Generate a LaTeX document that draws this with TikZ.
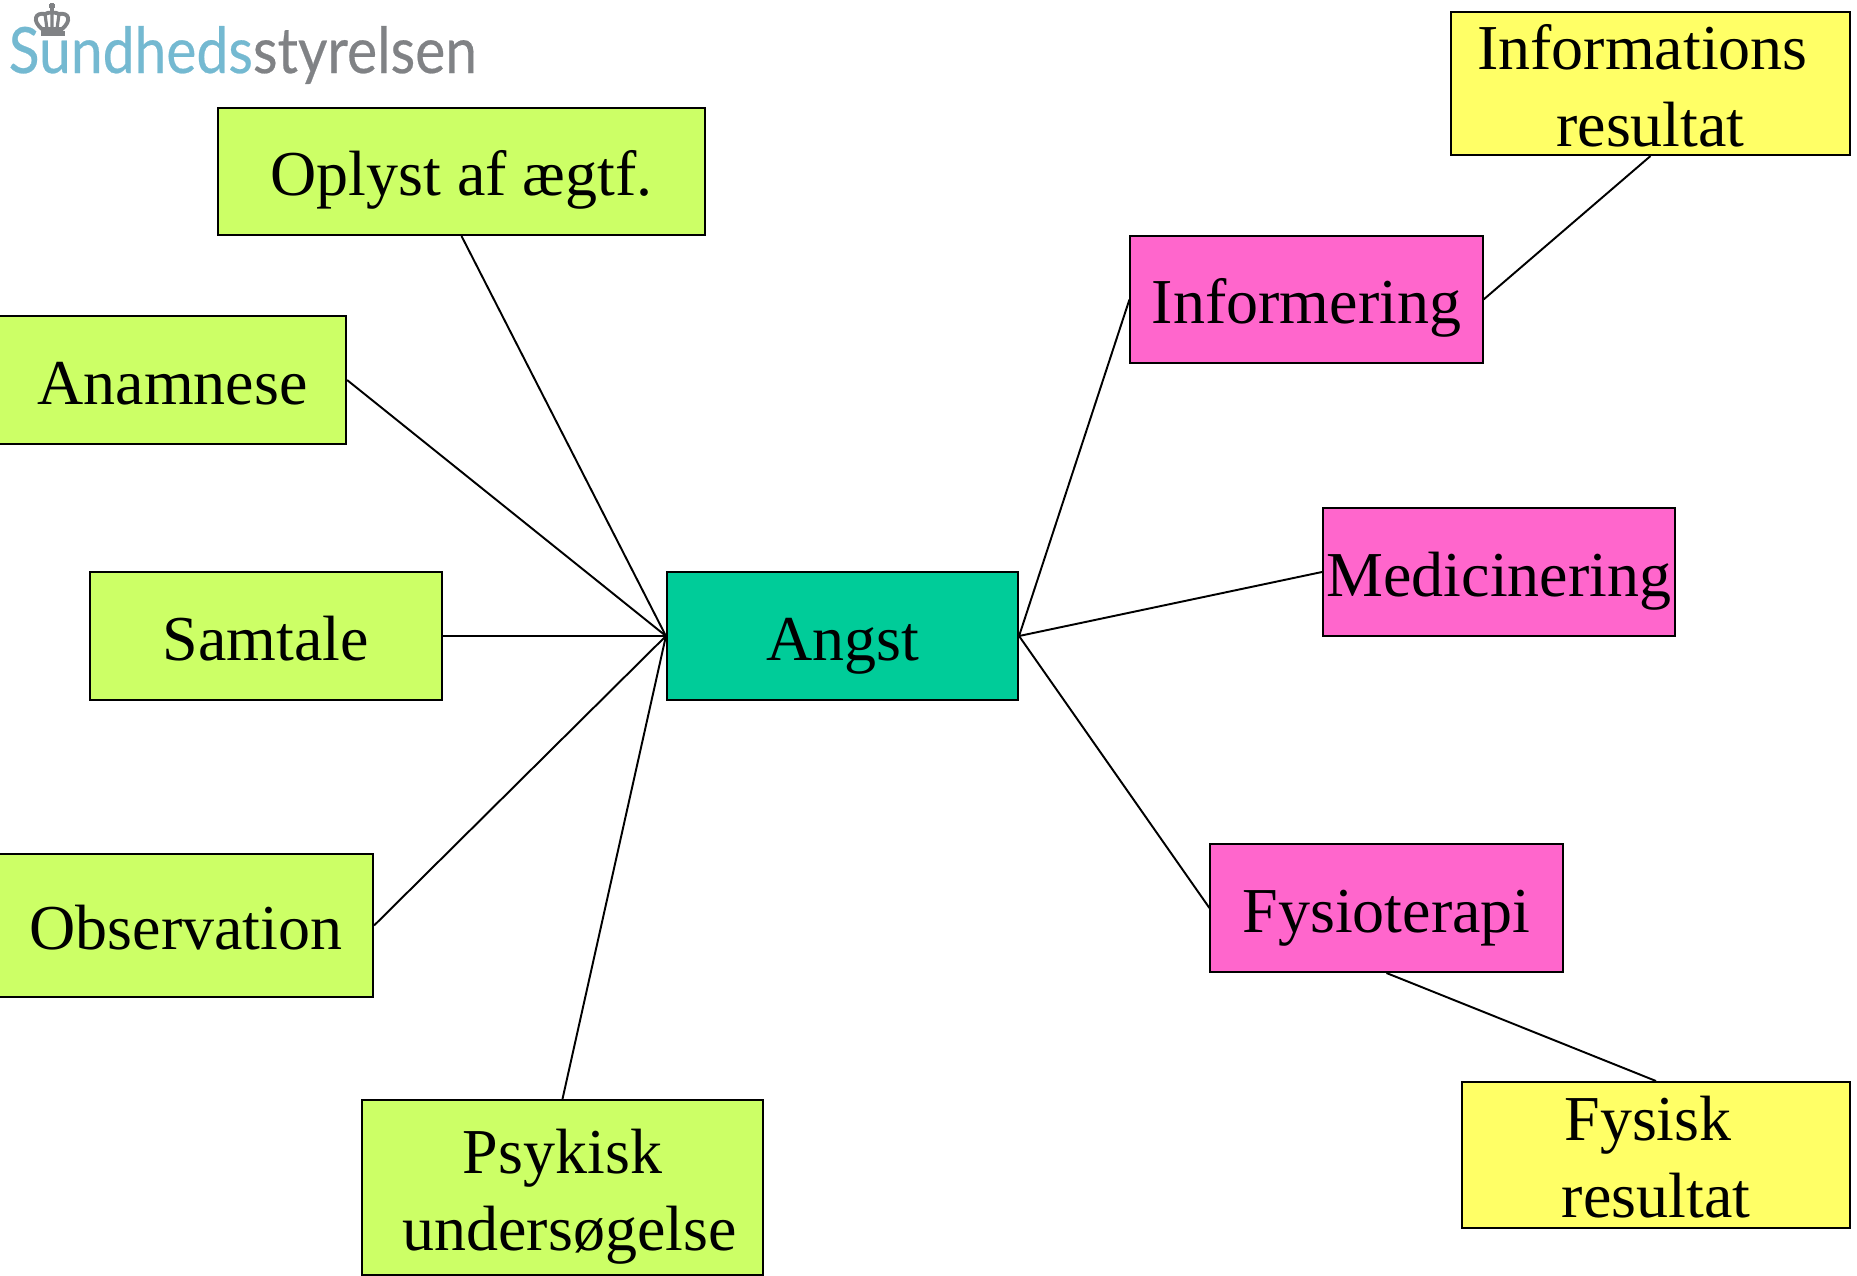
\documentclass[tikz,border=0pt]{standalone}
\usepackage{fontspec}
\setmainfont{Liberation Serif}
\newfontfamily\logofont[FakeBold=0.4]{Lato}
\usepackage{xcolor}
\usepackage{tikz}
\usetikzlibrary{calc}
\definecolor{limebox}{HTML}{CCFF66}
\definecolor{pinkbox}{HTML}{FF66CC}
\definecolor{tealbox}{HTML}{00CC99}
\definecolor{yellowbox}{HTML}{FFFF66}
\definecolor{logoblue}{HTML}{74B9D1}
\definecolor{logogray}{HTML}{808285}
\tikzset{
	box/.style={draw=black,line width=0.55pt,inner sep=0pt,align=center,text=black,text height=0.48cm,text depth=0pt,font=\fontsize{18.2}{21.9}\selectfont},
	cause/.style={box,fill=limebox},
	action/.style={box,fill=pinkbox},
	result/.style={box,fill=yellowbox},
	twoline/.style={text height=1.25cm,text depth=0pt},
	link/.style={black,line width=0.55pt}
}
\begin{document}
\begin{tikzpicture}[x=0.01cm,y=-0.01cm]
	\useasboundingbox (0,0) rectangle (1857,1275);
	% logo
	\node[inner sep=0pt,anchor=base west,font=\logofont\fontsize{16.2}{18}\selectfont] (logo) at (8,73) {\scalebox{1}[1.12]{\textcolor{logoblue}{Sundheds}\textcolor{logogray}{styrelsen}}};
	\fill[logogray] (41,31) rectangle (65,36);
	\draw[logogray,line width=1.1pt] (42,29) .. controls (32,21) and (35,12) .. (45,14) .. controls (48,12) and (56,12) .. (59,14) .. controls (69,12) and (72,21) .. (62,29) -- cycle;
	\draw[logogray,line width=0.9pt] (45,14) -- (47,29) (52,12) -- (52,29) (59,14) -- (57,29);
	\draw[logogray,line width=0.9pt] (52,3) -- (52,12) (49,6) -- (55,6);
	% centre
	\node[box,fill=tealbox,minimum width=3.51cm,minimum height=1.28cm] (angst) at (842.5,636) {Angst};
	% left side
	\node[cause,minimum width=4.87cm,minimum height=1.27cm] (oplyst) at (461.5,171.5) {Oplyst af ægtf.};
	\node[cause,minimum width=3.47cm,minimum height=1.28cm] (anamnese) at (172.5,380) {Anamnese};
	\node[cause,minimum width=3.52cm,minimum height=1.28cm] (samtale) at (266,636) {Samtale};
	\node[cause,minimum width=3.74cm,minimum height=1.43cm] (observation) at (186,925.5) {Observation};
	\node[cause,twoline,minimum width=4.01cm,minimum height=1.75cm] (psykisk) at (562.5,1187.5) {Psykisk\\\hspace*{0.14cm}undersøgelse};
	% right side
	\node[action,minimum width=3.52cm,minimum height=1.27cm] (informering) at (1306.5,299.5) {Informering};
	\node[action,minimum width=3.52cm,minimum height=1.28cm] (medicinering) at (1499,572) {Medicinering};
	\node[action,minimum width=3.52cm,minimum height=1.28cm] (fysioterapi) at (1386.5,908) {Fysioterapi};
	\node[result,twoline,minimum width=3.99cm,minimum height=1.43cm] (inforesultat) at (1650.5,83.5) {Informations\hspace*{0.16cm}\\resultat};
	\node[result,twoline,minimum width=3.88cm,minimum height=1.46cm] (fysiskresultat) at (1656,1155) {Fysisk\hspace*{0.16cm}\\resultat};
	% links
	\draw[link] (oplyst.south) -- (angst.west);
	\draw[link] (anamnese.east) -- (angst.west);
	\draw[link] (samtale.east) -- (angst.west);
	\draw[link] (observation.east) -- (angst.west);
	\draw[link] (psykisk.north) -- (angst.west);
	\draw[link] (angst.east) -- (informering.west);
	\draw[link] (angst.east) -- (medicinering.west);
	\draw[link] (angst.east) -- (fysioterapi.west);
	\draw[link] (informering.east) -- (inforesultat.south);
	\draw[link] (fysioterapi.south) -- (fysiskresultat.north);
\end{tikzpicture}
\end{document}
